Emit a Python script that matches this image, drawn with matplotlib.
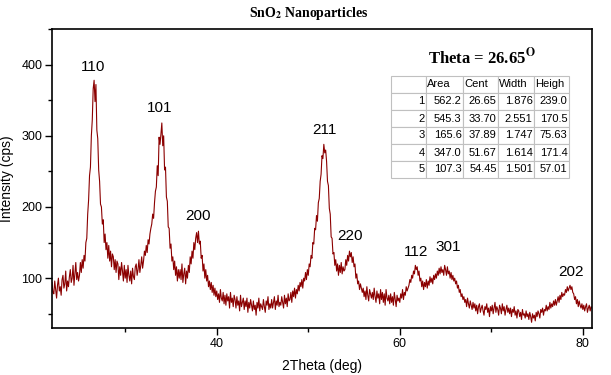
import numpy as np
import matplotlib
matplotlib.use("Agg")
import matplotlib.pyplot as plt
from matplotlib.ticker import MultipleLocator

plt.rcParams['font.family'] = ['Liberation Sans', 'DejaVu Sans']
plt.rcParams['mathtext.fontset'] = 'stix'

# Scan grid: 22.0 .. 81.0 deg, step 0.1
two_theta = np.round(np.arange(22.0, 81.0001, 0.1), 1)

# Intensity (cps), 10 values per degree
intensity = [
    94, 80, 78, 96, 84, 72, 90, 100, 82, 88,          # 22
    76, 98, 104, 86, 92, 110, 82, 96, 88, 102,        # 23
    112, 94, 100, 118, 90, 106, 122, 98, 108, 96,     # 24
    104, 122, 108, 126, 114, 132, 124, 150, 156, 190, # 25
    210, 244, 256, 300, 322, 366, 378, 348, 372, 308, # 26
    296, 252, 236, 204, 200, 176, 182, 150, 162, 140, # 27
    150, 128, 146, 124, 138, 116, 134, 130, 112, 126, # 28
    108, 124, 120, 98, 116, 104, 122, 110, 96, 118,   # 29
    100, 112, 94, 118, 104, 96, 110, 92, 114, 102,    # 30
    98, 116, 120, 104, 112, 126, 108, 118, 130, 114,  # 31
    124, 138, 132, 146, 136, 154, 148, 162, 170, 176, # 32
    190, 184, 206, 222, 228, 258, 244, 298, 288, 302, # 33
    318, 286, 300, 252, 256, 214, 208, 172, 170, 142, # 34
    148, 124, 130, 112, 124, 104, 116, 96, 112, 100,  # 35
    112, 98, 120, 94, 106, 114, 92, 110, 100, 118,    # 36
    108, 130, 120, 138, 128, 150, 140, 156, 164, 150, # 37
    166, 148, 152, 128, 132, 110, 120, 100, 112, 96,  # 38
    104, 88, 96, 84, 94, 80, 90, 76, 86, 74,          # 39
    82, 70, 78, 66, 84, 72, 68, 80, 64, 76,           # 40
    62, 78, 68, 74, 58, 80, 66, 72, 60, 76,           # 41
    70, 58, 74, 62, 68, 54, 76, 60, 66, 72,           # 42
    56, 68, 60, 72, 52, 66, 58, 70, 62, 54,           # 43
    68, 56, 62, 48, 66, 58, 72, 54, 64, 60,           # 44
    56, 70, 60, 52, 68, 62, 74, 56, 64, 58,           # 45
    70, 58, 66, 74, 56, 68, 62, 76, 60, 66,           # 46
    62, 74, 66, 58, 76, 64, 72, 60, 78, 68,           # 47
    70, 80, 66, 82, 74, 86, 72, 84, 78, 90,           # 48
    82, 94, 88, 98, 86, 100, 96, 108, 98, 112,        # 49
    104, 120, 116, 132, 128, 150, 148, 170, 168, 188, # 50
    180, 206, 212, 236, 246, 272, 268, 288, 276, 280, # 51
    264, 236, 230, 198, 190, 158, 156, 134, 136, 118, # 52
    126, 110, 120, 104, 118, 108, 122, 106, 116, 110, # 53
    112, 126, 118, 132, 124, 138, 130, 136, 122, 130, # 54
    116, 120, 100, 106, 92, 96, 84, 92, 86, 80,       # 55
    86, 74, 82, 70, 88, 76, 68, 84, 78, 72,           # 56
    80, 70, 86, 74, 66, 82, 72, 78, 64, 84,           # 57
    70, 80, 66, 78, 62, 84, 72, 68, 76, 64,           # 58
    78, 66, 74, 62, 80, 70, 60, 76, 68, 72,           # 59
    66, 78, 72, 84, 70, 80, 76, 88, 82, 86,           # 60
    90, 98, 94, 104, 100, 110, 106, 118, 112, 116,    # 61
    104, 110, 96, 100, 88, 96, 84, 94, 88, 98,        # 62
    86, 96, 90, 102, 94, 100, 92, 104, 98, 106,       # 63
    100, 110, 104, 114, 106, 116, 108, 112, 104, 118, # 64
    112, 104, 116, 106, 110, 100, 108, 98, 104, 96,   # 65
    100, 92, 96, 86, 90, 80, 84, 74, 78, 70,          # 66
    74, 66, 70, 60, 72, 64, 58, 68, 62, 56,           # 67
    66, 58, 64, 54, 62, 50, 60, 64, 52, 58,           # 68
    62, 54, 48, 60, 56, 64, 52, 58, 46, 60,           # 69
    54, 62, 50, 58, 66, 52, 60, 56, 48, 62,           # 70
    58, 50, 64, 54, 60, 48, 56, 62, 52, 58,           # 71
    50, 58, 46, 56, 52, 60, 48, 54, 44, 56,           # 72
    54, 46, 52, 42, 56, 48, 50, 44, 54, 46,           # 73
    50, 42, 52, 46, 38, 50, 44, 48, 40, 52,           # 74
    46, 54, 50, 44, 56, 52, 58, 48, 56, 54,           # 75
    62, 54, 60, 56, 66, 58, 64, 60, 68, 62,           # 76
    70, 62, 68, 74, 66, 76, 70, 80, 74, 78,           # 77
    76, 84, 80, 88, 82, 86, 90, 84, 88, 80,           # 78
    78, 70, 74, 64, 70, 60, 68, 62, 58, 64,           # 79
    56, 62, 54, 60, 64, 52, 58, 62, 54, 60,           # 80
    58,                                               # 81
]

peak_labels = ["110", "101", "200", "211", "220", "112", "301", "202"]
peak_label_x = [26.5, 33.8, 37.9, 51.8, 54.6, 61.8, 65.3, 78.7]
peak_label_y = [396, 339, 187, 308, 159, 137, 144, 109]

table_cols = ["", "Area", "Cent", "Width", "Heigh"]
table_index = ["1", "2", "3", "4", "5"]
area = ["562.2", "545.3", "165.6", "347.0", "107.3"]
cent = ["26.65", "33.70", "37.89", "51.67", "54.45"]
width = ["1.876", "2.551", "1.747", "1.614", "1.501"]
height = ["239.0", "170.5", "75.63", "171.4", "57.01"]

fig = plt.figure(figsize=(6.11, 3.75), dpi=100)
W, H = 611, 375
ax = fig.add_axes([52 / W, 1 - 328 / H, 540 / W, 299 / H])

ax.plot(two_theta, intensity, color='#8b0000', lw=0.8)
ax.set_xlim(22, 81)
ax.set_ylim(30, 450)
ax.xaxis.set_major_locator(MultipleLocator(20))
ax.xaxis.set_minor_locator(MultipleLocator(10))
ax.yaxis.set_major_locator(MultipleLocator(100))
ax.yaxis.set_minor_locator(MultipleLocator(50))
ax.tick_params(which='major', direction='out', length=5, width=1, labelsize=9, pad=2)
ax.tick_params(which='minor', direction='out', length=3, width=1)
for s in ax.spines.values():
    s.set_linewidth(1.2)

ax.set_xlabel("2Theta (deg)", fontsize=10, labelpad=7)
ax.set_ylabel("Intensity (cps)", fontsize=10, labelpad=5)

for lab, lx, ly in zip(peak_labels, peak_label_x, peak_label_y):
    ax.text(lx, ly, lab, fontsize=11, ha='center', va='center')

fig.text(309 / W, 1 - 13 / H, r"SnO$_\mathbf{2}$ Nanoparticles",
         family='Liberation Serif', weight='bold', fontsize=10,
         ha='center', va='center')

ax.text(0.696, 0.905, r"Theta = 26.65$^{\mathbf{O}}$", transform=ax.transAxes,
        family='Liberation Serif', weight='bold', fontsize=12,
        ha='left', va='center')

cell_text = [table_cols] + [[i, a, c, w, h] for i, a, c, w, h in
                            zip(table_index, area, cent, width, height)]
x0 = (391 - 52) / 540
y0 = (328 - 178) / 299
tw = (569 - 391) / 540
th = (178 - 76) / 299
tbl = ax.table(cellText=cell_text, bbox=[x0, y0, tw, th],
               colWidths=[35, 37, 35, 36, 35], cellLoc='right')
tbl.auto_set_font_size(False)
for (r, c), cell in tbl.get_celld().items():
    cell.set_edgecolor('#c0c0c0')
    cell.set_linewidth(0.8)
    cell.get_text().set_fontsize(8)
    cell.PAD = 0.04
    if r == 0:
        cell.get_text().set_ha('left')

fig.savefig("out.png", dpi=100)
